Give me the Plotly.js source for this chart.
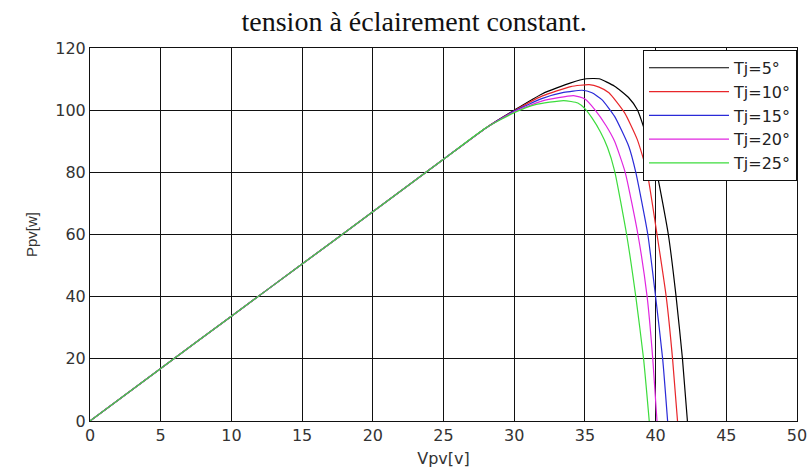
<!DOCTYPE html>
<html>
<head>
<meta charset="utf-8">
<script src="https://cdn.plot.ly/plotly-3.0.1.min.js"></script>
<style>html,body{margin:0;padding:0;background:#fff;}#chart{width:812px;height:468px;}</style>
</head>
<body>
<div id="chart"></div>
<script>
// Tick values
var xTicks = [0, 5, 10, 15, 20, 25, 30, 35, 40, 45, 50];
var yTicks = [0, 20, 40, 60, 80, 100, 120];

// Series names
var seriesNames = ["Tj=5°", "Tj=10°", "Tj=15°", "Tj=20°", "Tj=25°"];

// Tj = 5°
var v5 = [0,5,10,15,20,25,28,30,32,34,35.1,36,37.1,38.1,38.7,39.4,40.1,40.9,41.45,41.9,42.25];
var p5 = [0,16.9,33.7,50.5,67.3,84.2,94.3,100,105.3,108.8,110.1,110.1,107.7,104,100.2,91,79.5,60,40,20,0];
// Tj = 10°
var v10 = [0,5,10,15,20,25,28,30,32,34,35.3,36,36.7,37.8,38.7,39.4,40.1,40.75,41.2,41.55];
var p10 = [0,16.9,33.7,50.5,67.3,84.2,94.3,99.8,104.6,107.6,108.2,107.4,105.6,99.2,90.6,80,60,40,20,0];
// Tj = 15°
var v15 = [0,5,10,15,20,25,28,30,32,33.5,34.8,35.5,36.2,37.1,38.1,38.6,39.45,40,40.5,40.85];
var p15 = [0,16.9,33.7,50.5,67.3,84.2,94.3,99.7,103.8,105.7,106.4,105.6,103.4,98,88.4,80,60,40,20,0];
// Tj = 20°
var v20 = [0,5,10,15,20,25,28,30,32,34.2,35,35.7,36.5,37.1,37.85,38.75,39.4,39.8,40.1];
var p20 = [0,16.9,33.7,50.5,67.3,84.2,94.3,99.5,103,104.7,103.6,100.2,95,90,80,60,40,20,0];
// Tj = 25°
var v25 = [0,5,10,15,20,25,28,30,31.5,33.5,34.5,35,35.5,36.1,36.6,37.1,37.95,38.6,39.15,39.55];
var p25 = [0,16.9,33.7,50.5,67.3,84.2,94.3,99.2,101.8,103.1,102.3,100.5,97.5,93,88,80.5,60,40,20,0];

var colors = ["#000000", "#e8262a", "#2a2ad8", "#e026e0", "#3cdc3c"];
var xs = [v5, v10, v15, v20, v25];
var ys = [p5, p10, p15, p20, p25];

var traces = xs.map(function (x, i) {
  return {
    x: x, y: ys[i], type: "scatter", mode: "lines", name: seriesNames[i],
    line: { color: colors[i], width: 1.2, shape: "spline", smoothing: 0.5 }
  };
});

var axisCommon = {
  showgrid: true, gridcolor: "#111", gridwidth: 1,
  showline: true, linecolor: "#111", linewidth: 1, mirror: true,
  ticks: "inside", ticklen: 3, tickcolor: "#111",
  zeroline: false,
  tickfont: { family: "DejaVu Sans", size: 16, color: "#333" }
};

var layout = {
  width: 812, height: 468,
  margin: { l: 90, r: 15, t: 48, b: 47 },
  paper_bgcolor: "#fff", plot_bgcolor: "#fff",
  title: {
    text: "tension à éclairement constant.",
    font: { family: "Liberation Serif", size: 28, color: "#111" },
    x: 0.51, xanchor: "center", xref: "container",
    y: 0.955, yanchor: "middle", yref: "container"
  },
  xaxis: Object.assign({}, axisCommon, {
    range: [0, 50], tickvals: xTicks, ticktext: xTicks.map(String),
    title: { text: "Vpv[v]", font: { family: "DejaVu Sans", size: 16, color: "#333" }, standoff: 8 }
  }),
  yaxis: Object.assign({}, axisCommon, {
    range: [0, 120], tickvals: yTicks, ticktext: yTicks.map(String),
    title: { text: "Ppv[w]", font: { family: "Liberation Sans", size: 15, color: "#333" }, standoff: 14 }
  }),
  showlegend: true,
  legend: {
    x: 1, xanchor: "right", y: 0.995, yanchor: "top",
    bgcolor: "#fff", bordercolor: "#111", borderwidth: 1,
    font: { family: "DejaVu Sans", size: 16, color: "#222" },
    itemwidth: 80, entrywidth: 155
  }
};

Plotly.newPlot("chart", traces, layout, { displayModeBar: false, staticPlot: true });
</script>
</body>
</html>
